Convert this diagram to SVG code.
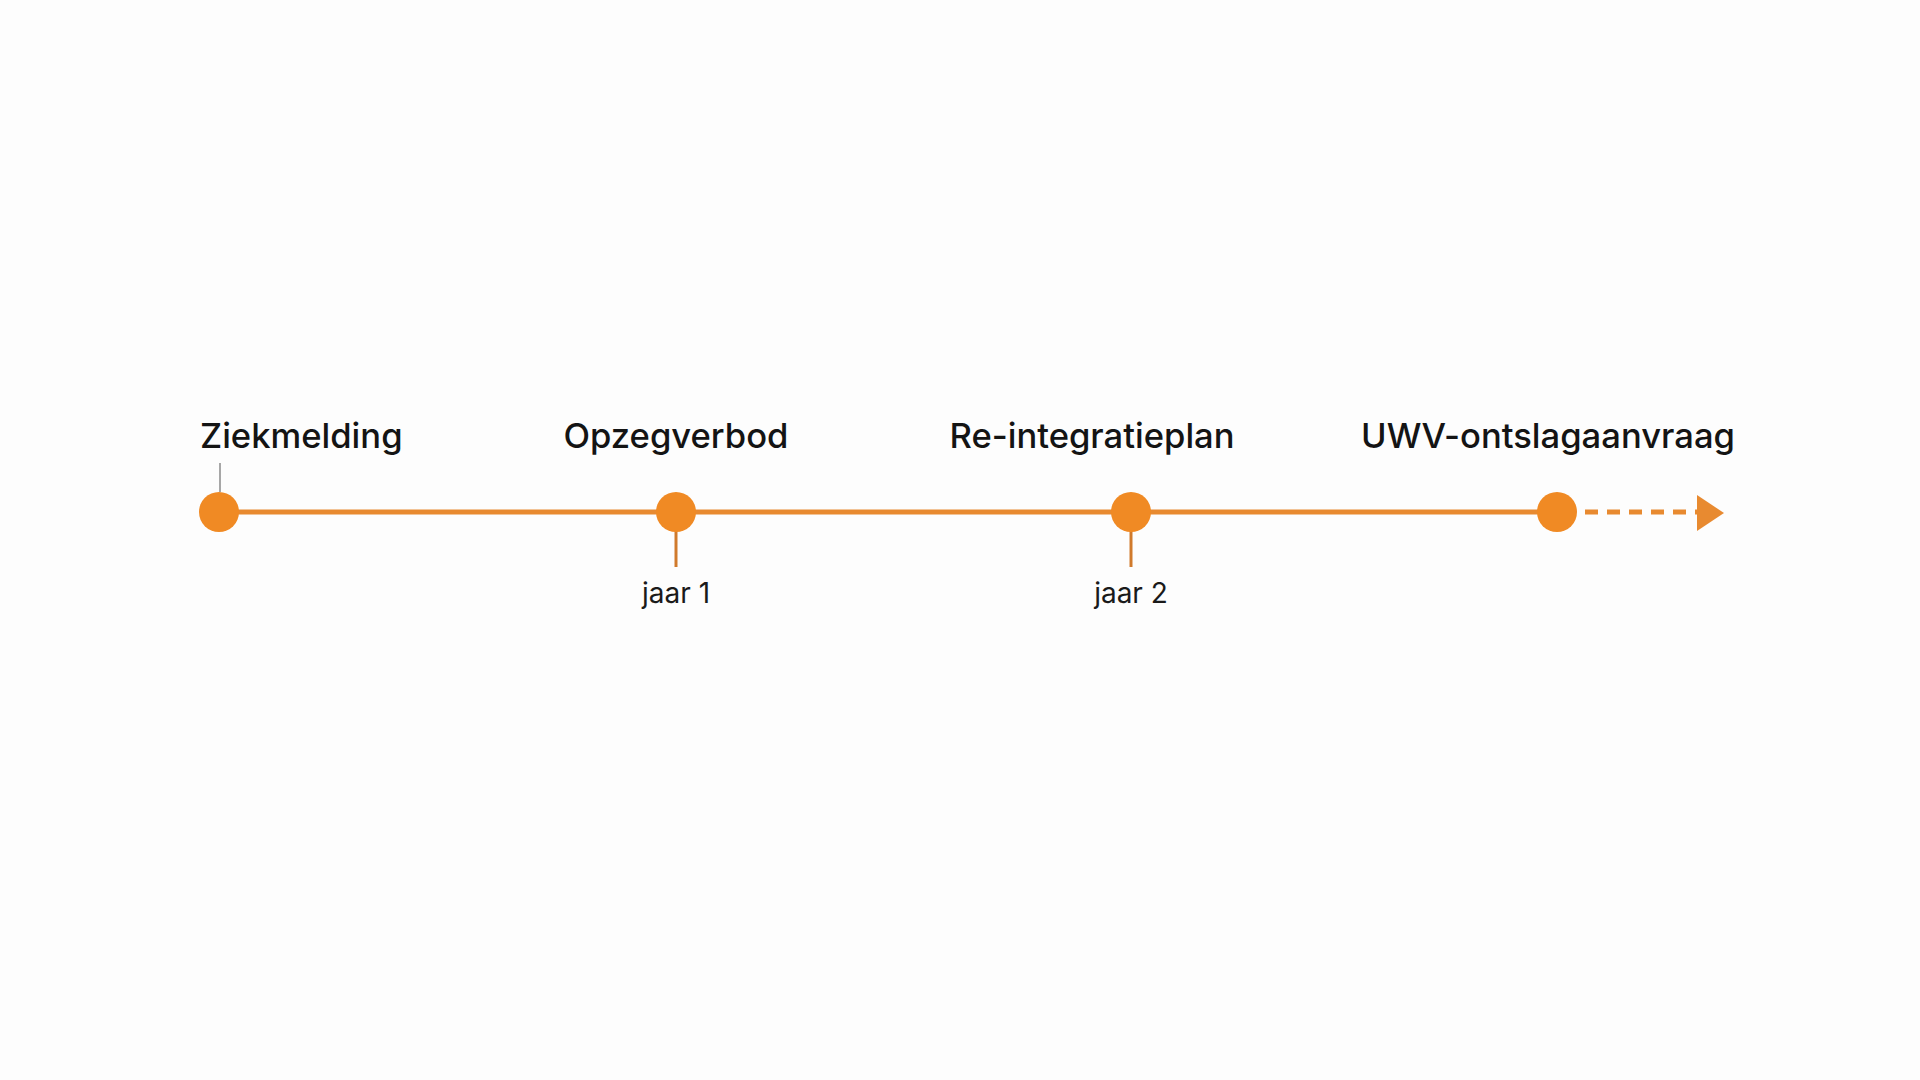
<svg xmlns="http://www.w3.org/2000/svg" width="1920" height="1080" viewBox="0 0 1920 1080">
  <defs>
    <style>
      .title { font-family: Inter, "Noto Sans", "Liberation Sans", sans-serif; font-size: 34.6px; font-weight: 500; fill: #141414; }
      .sub { font-family: Inter, "Noto Sans", "Liberation Sans", sans-serif; font-size: 28px; font-weight: 400; fill: #1a1a1a; text-anchor: middle; }
      .dot { fill: #F08A24; }
      .tick { stroke: #D07A2C; stroke-width: 3; }
    </style>
  </defs>
  <rect width="1920" height="1080" fill="#FDFDFD"/>
  <g id="connectors">
    <line x1="219" y1="512" x2="1557" y2="512" stroke="#E88A30" stroke-width="5"/>
    <line x1="1585" y1="512" x2="1700" y2="512" stroke="#E88A30" stroke-width="5" stroke-dasharray="13 9"/>
    <polygon points="1697,495 1724,513 1697,531" fill="#E88A30"/>
    <line x1="220" y1="463" x2="220" y2="492" stroke="#8a8a8a" stroke-width="1.5"/>
    <line class="tick" x1="676" y1="530" x2="676" y2="567"/>
    <line class="tick" x1="1131" y1="530" x2="1131" y2="567"/>
  </g>
  <g id="node-ziekmelding">
    <circle class="dot" cx="219" cy="512" r="20"/>
    <text class="title" x="200" y="448">Ziekmelding</text>
  </g>
  <g id="node-opzegverbod">
    <circle class="dot" cx="676" cy="512" r="20"/>
    <text class="title" x="676" y="448" text-anchor="middle">Opzegverbod</text>
    <text class="sub" x="676" y="603">jaar 1</text>
  </g>
  <g id="node-reintegratieplan">
    <circle class="dot" cx="1131" cy="512" r="20"/>
    <text class="title" x="1092" y="448" text-anchor="middle">Re-integratieplan</text>
    <text class="sub" x="1131" y="603">jaar 2</text>
  </g>
  <g id="node-uwv">
    <circle class="dot" cx="1557" cy="512" r="20"/>
    <text class="title" x="1548" y="448" text-anchor="middle">UWV-ontslagaanvraag</text>
  </g>
</svg>
